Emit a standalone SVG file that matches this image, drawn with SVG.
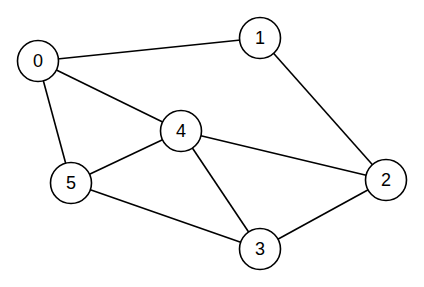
<svg xmlns="http://www.w3.org/2000/svg" width="424" height="287" viewBox="0 0 424 287">
<style>
.n circle{fill:#fff;stroke:#000;stroke-width:1.6}
.n text{font-family:"Liberation Sans",Arial,sans-serif;font-size:18px;fill:#000;text-anchor:middle;dominant-baseline:central}
.e line{stroke:#000;stroke-width:1.6}
</style>
<rect width="424" height="287" fill="#fff"/>
<g id="edges" class="e">
<line x1="38" y1="61" x2="260" y2="38"/>
<line x1="38" y1="61" x2="181" y2="131"/>
<line x1="38" y1="61" x2="71" y2="183"/>
<line x1="260" y1="38" x2="386" y2="180"/>
<line x1="181" y1="131" x2="386" y2="180"/>
<line x1="181" y1="131" x2="71" y2="183"/>
<line x1="181" y1="131" x2="260" y2="249"/>
<line x1="71" y1="183" x2="260" y2="249"/>
<line x1="260" y1="249" x2="386" y2="180"/>
</g>
<g id="node0" class="n"><circle cx="38" cy="61" r="20.5"/><text x="38" y="61">0</text></g>
<g id="node1" class="n"><circle cx="260" cy="38" r="20.5"/><text x="260" y="38">1</text></g>
<g id="node2" class="n"><circle cx="386" cy="180" r="20.5"/><text x="386" y="180">2</text></g>
<g id="node3" class="n"><circle cx="260" cy="249" r="20.5"/><text x="260" y="249">3</text></g>
<g id="node4" class="n"><circle cx="181" cy="131" r="20.5"/><text x="181" y="131">4</text></g>
<g id="node5" class="n"><circle cx="71" cy="183" r="20.5"/><text x="71" y="183">5</text></g>
</svg>
